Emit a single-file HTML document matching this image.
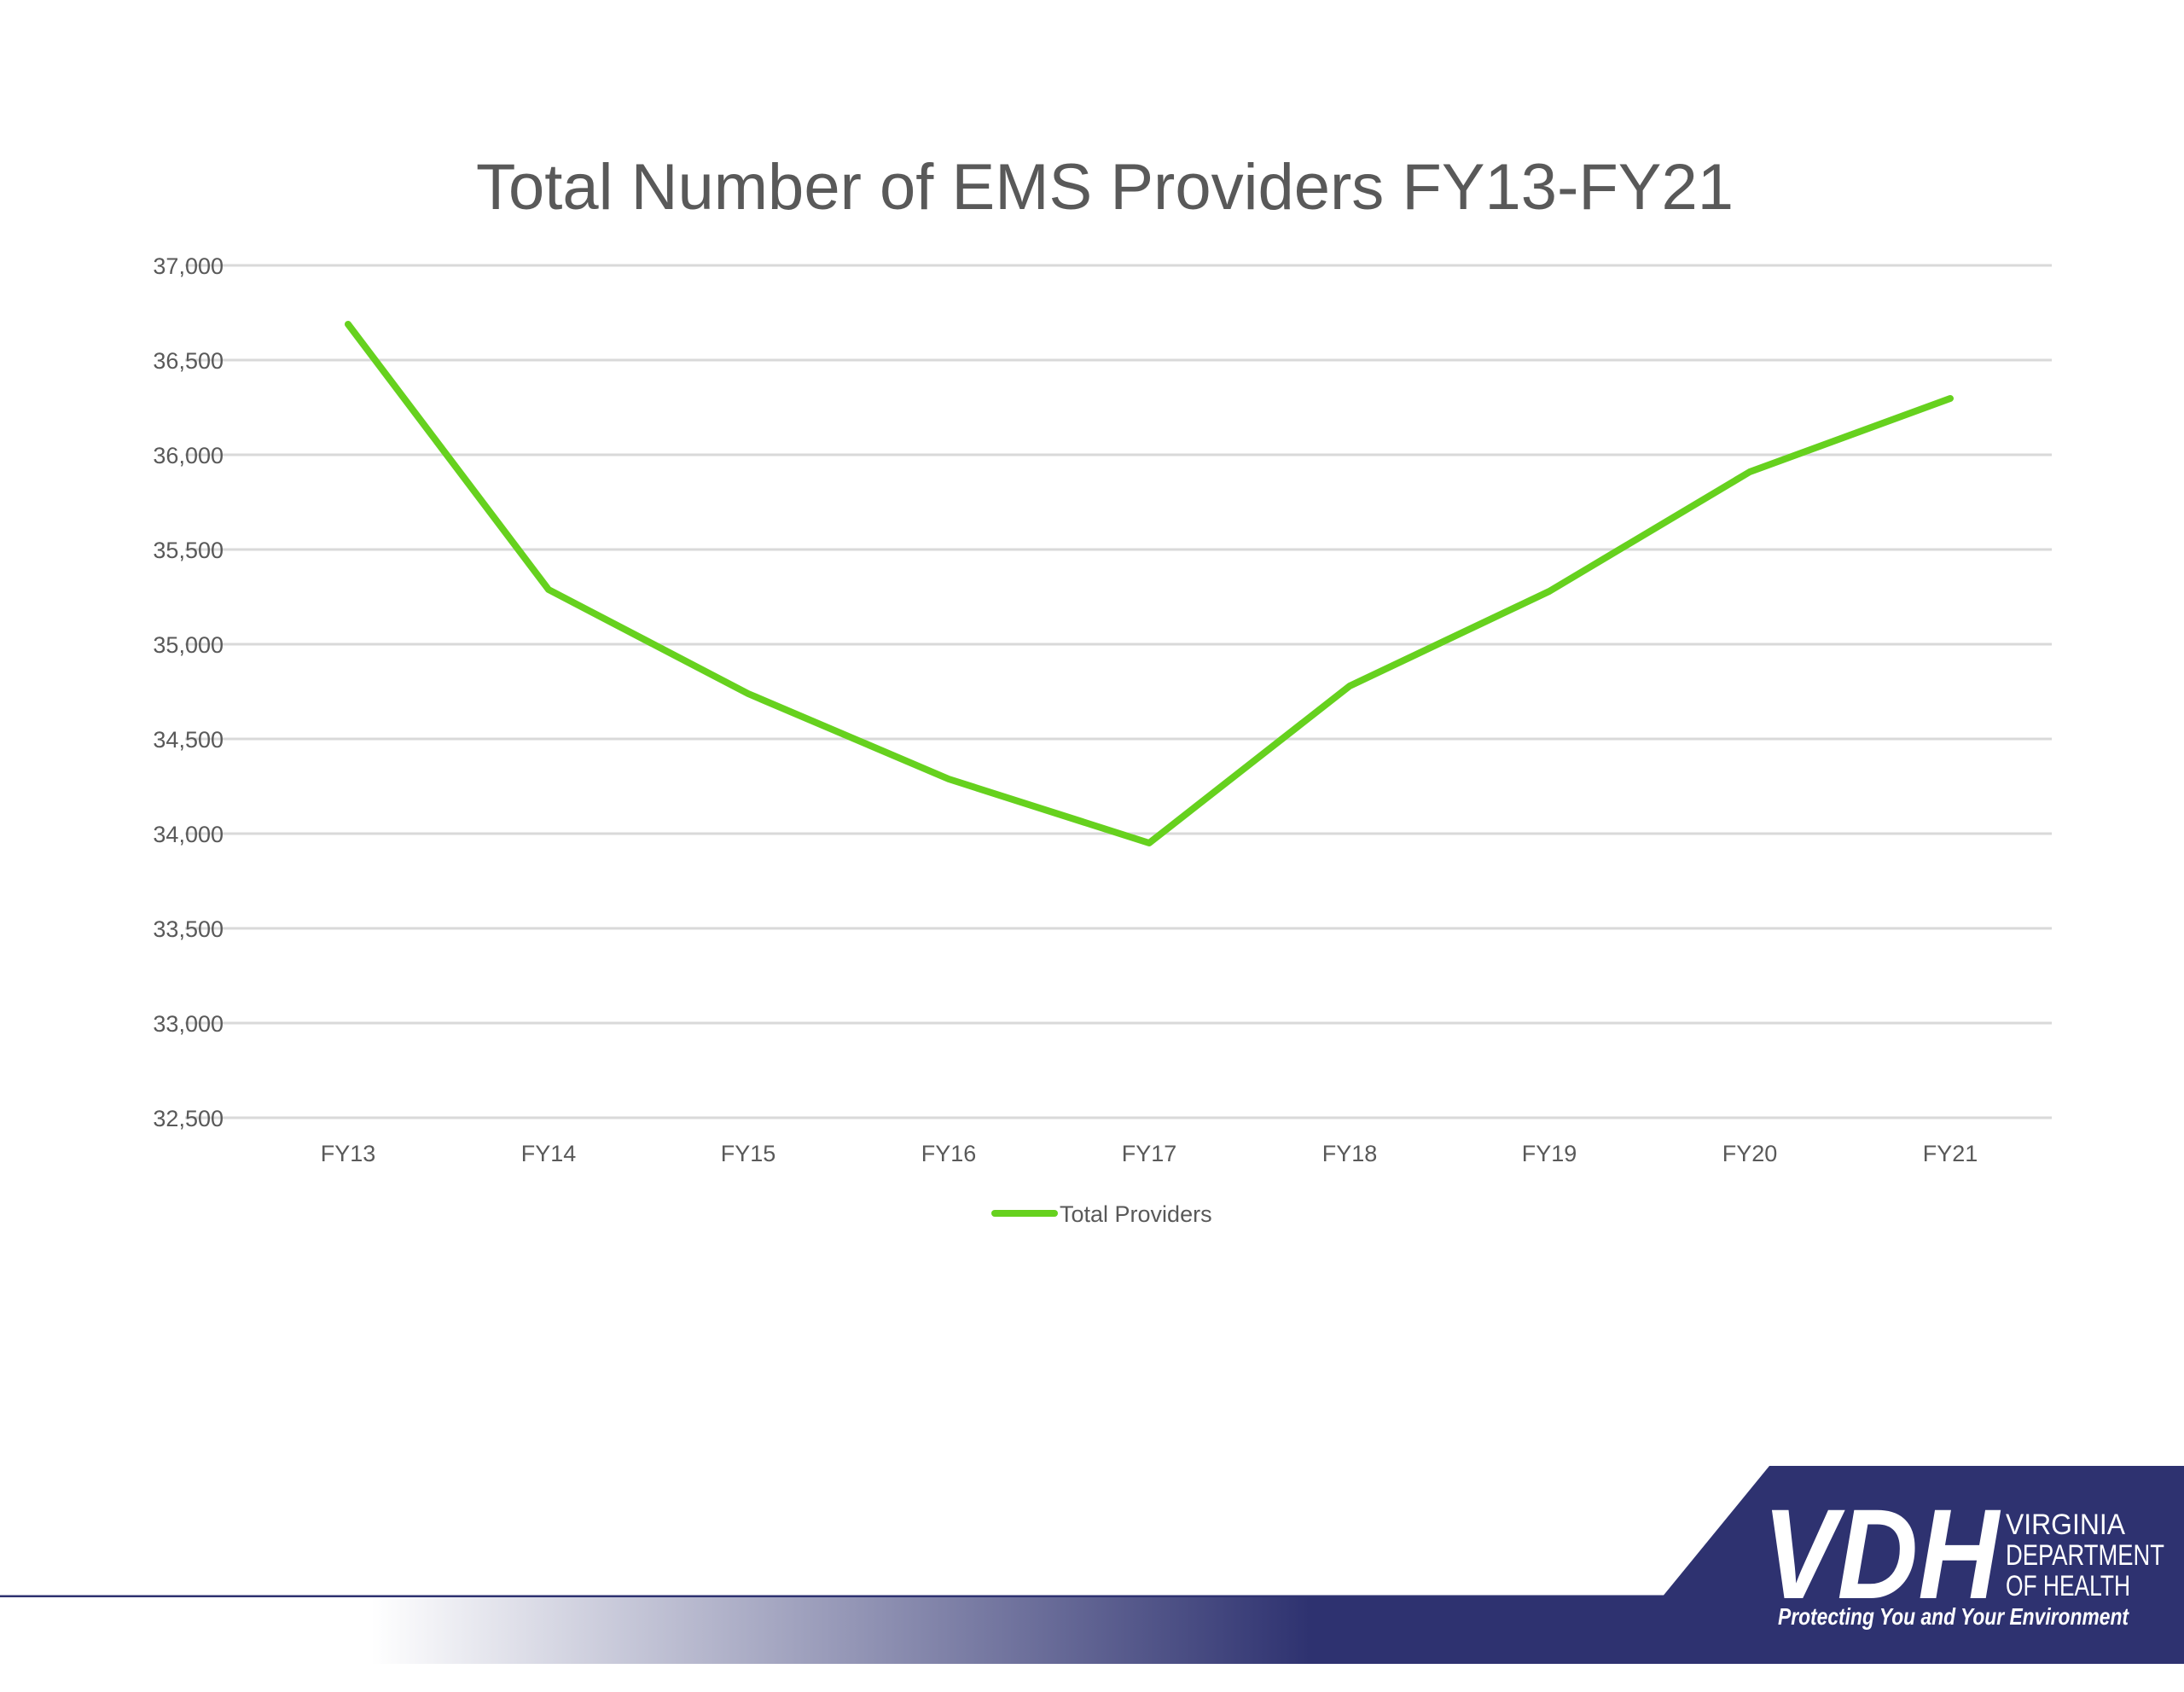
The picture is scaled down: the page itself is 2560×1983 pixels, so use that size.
<!DOCTYPE html>
<html><head><meta charset="utf-8"><style>
html,body{margin:0;padding:0;background:#fff;}
body{width:2560px;height:1978px;overflow:hidden;}
</style></head><body>
<svg width="2560" height="1978" viewBox="0 0 2560 1978" xmlns="http://www.w3.org/2000/svg" font-family="'Liberation Sans', sans-serif">
<defs>
<linearGradient id="g" x1="0" x2="1" y1="0" y2="0">
<stop offset="0" stop-color="#ffffff"/>
<stop offset="0.17" stop-color="#ffffff"/>
<stop offset="0.6" stop-color="#2e3270"/>
<stop offset="1" stop-color="#2e3270"/>
</linearGradient>
</defs>
<text x="1295" y="245" font-size="76" fill="#595959" text-anchor="middle">Total Number of EMS Providers FY13-FY21</text>
<g stroke="#d9d9d9" stroke-width="3">
<line x1="217" x2="2405" y1="311" y2="311"/>
<line x1="217" x2="2405" y1="422" y2="422"/>
<line x1="217" x2="2405" y1="533" y2="533"/>
<line x1="217" x2="2405" y1="644" y2="644"/>
<line x1="217" x2="2405" y1="755" y2="755"/>
<line x1="217" x2="2405" y1="866" y2="866"/>
<line x1="217" x2="2405" y1="977" y2="977"/>
<line x1="217" x2="2405" y1="1088" y2="1088"/>
<line x1="217" x2="2405" y1="1199" y2="1199"/>
<line x1="217" x2="2405" y1="1310" y2="1310"/>
</g>
<g font-size="27" fill="#595959" text-anchor="end">
<text x="262" y="321">37,000</text>
<text x="262" y="432">36,500</text>
<text x="262" y="543">36,000</text>
<text x="262" y="654">35,500</text>
<text x="262" y="765">35,000</text>
<text x="262" y="876">34,500</text>
<text x="262" y="987">34,000</text>
<text x="262" y="1098">33,500</text>
<text x="262" y="1209">33,000</text>
<text x="262" y="1320">32,500</text>
</g>
<g font-size="27" fill="#595959" text-anchor="middle">
<text x="408" y="1361">FY13</text>
<text x="643" y="1361">FY14</text>
<text x="877" y="1361">FY15</text>
<text x="1112" y="1361">FY16</text>
<text x="1347" y="1361">FY17</text>
<text x="1582" y="1361">FY18</text>
<text x="1816" y="1361">FY19</text>
<text x="2051" y="1361">FY20</text>
<text x="2286" y="1361">FY21</text>
</g>
<polyline fill="none" stroke="#66d11e" stroke-width="8" stroke-linecap="round" stroke-linejoin="round"
points="408,380 643,691 877,813 1112,913 1347,988 1582,804 1816,693 2051,553 2286,467"/>
<line x1="1166" x2="1236" y1="1422" y2="1422" stroke="#66d11e" stroke-width="8" stroke-linecap="round"/>
<text x="1242" y="1432" font-size="27" fill="#595959">Total Providers</text>
<line x1="0" x2="2560" y1="1871" y2="1871" stroke="#2e3270" stroke-width="3"/>
<rect x="0" y="1872" width="2560" height="78" fill="url(#g)"/>
<polygon points="2074,1718 2560,1718 2560,1950 1948,1950 1948,1872" fill="#2e3270"/>
<text x="2066" y="1873" font-size="150" font-style="italic" font-weight="bold" fill="#fff" textLength="277" lengthAdjust="spacingAndGlyphs">VDH</text>
<g font-size="34" fill="#fff">
<text x="2351" y="1798" textLength="140" lengthAdjust="spacingAndGlyphs">VIRGINIA</text>
<text x="2351" y="1834" textLength="186" lengthAdjust="spacingAndGlyphs">DEPARTMENT</text>
<text x="2351" y="1870" textLength="146" lengthAdjust="spacingAndGlyphs">OF HEALTH</text>
</g>
<text x="2084" y="1904" font-size="28" font-style="italic" font-weight="bold" fill="#fff" textLength="411" lengthAdjust="spacingAndGlyphs">Protecting You and Your Environment</text>
</svg>
</body></html>
